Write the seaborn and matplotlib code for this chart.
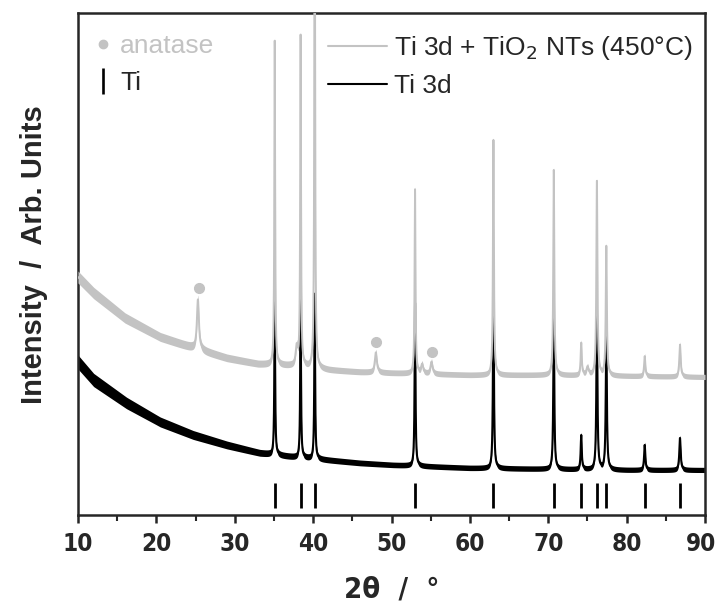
import numpy as np
import pandas as pd
import matplotlib
matplotlib.use("Agg")
import matplotlib.pyplot as plt
import matplotlib.transforms as mtransforms
from matplotlib.lines import Line2D
from matplotlib import font_manager
import seaborn as sns

# ---------------- data ----------------
# background knots (2theta, intensity in arbitrary units)
bg_gray_x = [10, 12, 16, 20.5, 24.7, 29, 33, 37.5, 42, 46, 50, 60, 70, 80, 90]
bg_gray_y = [238, 222, 197, 178, 167, 157, 151, 149, 145, 143, 142, 140, 140, 139, 138]
bg_black_x = [10, 12, 16.2, 20.5, 24.7, 29, 33.2, 37.5, 41.8, 46, 50.2, 60, 70, 80, 90]
bg_black_y = [153, 135, 112, 93, 80, 70, 62, 58, 55, 52, 50, 47, 46, 45, 45]
# noise half-width of the band (same units)
noise_x = [10, 20, 35, 50, 90]
noise_gray = [6.0, 4.5, 3.4, 2.9, 2.6]
noise_black = [7, 5.0, 3.2, 2.8, 2.6]

# Ti peaks
ti_pos = [35.1, 38.4, 40.2, 53.0, 63.0, 70.7, 74.2, 76.2, 77.4, 82.3, 86.8]
ti_h_gray = [324, 330, 560, 184, 235, 205, 32, 194, 129, 20, 32]
ti_h_black = [158, 157, 165, 163, 188, 152, 34, 156, 139, 25, 32]
ti_fwhm = [0.12, 0.12, 0.12, 0.13, 0.14, 0.15, 0.16, 0.16, 0.16, 0.18, 0.2]
# anatase peaks (gray pattern only)
an_pos = [25.3, 37.9, 48.0, 53.9, 55.1, 75.0]
an_h = [50, 18, 20, 9, 12, 8]
an_fwhm = [0.3, 0.3, 0.3, 0.3, 0.3, 0.3]
# anatase marker positions
an_mark_x = [25.45, 48.05, 55.1]
an_mark_y = [227, 173, 163]
# Ti reference sticks
ti_ref_bottom = 7
ti_ref_top = 32
x_ticks = [10, 20, 30, 40, 50, 60, 70, 80, 90]

theta = np.arange(10, 90.0001, 0.01)


def pattern(bx, by, pos, h, w):
    y = np.interp(theta, bx, by)
    for c, hh, ww in zip(pos, h, w):
        y = y + hh / (1 + ((theta - c) / (ww / 2)) ** 2)
    return y


y_black = pattern(bg_black_x, bg_black_y, ti_pos, ti_h_black, ti_fwhm)
y_gray = pattern(bg_gray_x, bg_gray_y, ti_pos + an_pos, ti_h_gray + an_h,
                 ti_fwhm + an_fwhm)
n_black = np.interp(theta, noise_x, noise_black)
n_gray = np.interp(theta, noise_x, noise_gray)

df = pd.DataFrame({"theta": theta, "black": y_black, "gray": y_gray})

# ---------------- figure ----------------
sns.set_theme(style="ticks")
plt.rcParams["font.family"] = ["Liberation Sans", "DejaVu Sans"]
names = {f.name for f in font_manager.fontManager.ttflist}
if "Liberation Sans Narrow" in names:
    NARROW = dict(family=["Liberation Sans Narrow", "Liberation Sans"])
else:
    NARROW = dict(family=["DejaVu Sans"], fontstretch="condensed")

GRAY = "#c3c3c3"
fig = plt.figure(figsize=(7.18, 6.05), dpi=100)
ax = fig.add_axes([0.1086, 0.1488, 0.8734, 0.8297])

ax.fill_between(theta, y_black - n_black, y_black + n_black, color="black",
                lw=0, zorder=2)
sns.lineplot(data=df, x="theta", y="black", ax=ax, color="black", lw=1.5,
             estimator=None, sort=False, zorder=2)
ax.vlines(ti_pos, ti_ref_bottom, ti_ref_top, color="black", lw=2, zorder=3)
ax.fill_between(theta, y_gray - n_gray, y_gray + n_gray, color=GRAY,
                lw=0, zorder=4)
sns.lineplot(data=df, x="theta", y="gray", ax=ax, color=GRAY, lw=1.4,
             estimator=None, sort=False, zorder=4)
ax.plot(an_mark_x, an_mark_y, "o", color=GRAY, ms=7, zorder=5)

ax.set_xlim(10, 90)
ax.set_ylim(0, 502)
ax.set_xticks(x_ticks)
ax.set_xticks(np.arange(15, 90, 10), minor=True)
ax.set_yticks([])
for s in ax.spines.values():
    s.set_linewidth(1.8)
    s.set_visible(True)
ax.tick_params(axis="x", which="major", length=6, width=1.8, direction="out",
               pad=6)
ax.tick_params(axis="x", which="minor", length=4, width=1.5, direction="out")
for lab in ax.get_xticklabels():
    lab.set(**NARROW)
    lab.set_fontweight("bold")
    lab.set_fontsize(17.5)
# nudge the last label so it stays inside the canvas
last = ax.xaxis.get_major_ticks()[-1].label1
last.set_transform(last.get_transform() +
                   mtransforms.ScaledTranslation(-4 / 100, 0, fig.dpi_scale_trans))

ax.set_xlabel("2θ  /  °", fontsize=21, fontweight="bold", labelpad=14, **NARROW)
ax.set_ylabel("Intensity  /  Arb. Units", fontsize=21, fontweight="bold")
ax.yaxis.set_label_coords(-0.048, 0.518)

h1 = [Line2D([], [], color=GRAY, lw=1.5), Line2D([], [], color="black", lw=1.5)]
leg1 = ax.legend(h1, ["Ti 3d + TiO$_2$ NTs (450°C)", "Ti 3d"], loc="upper right",
                 bbox_to_anchor=(0.98, 0.958), frameon=False, fontsize=19,
                 handlelength=2.25, handletextpad=0.25, labelspacing=0.45,
                 borderaxespad=0, borderpad=0)
ax.add_artist(leg1)

h2 = [Line2D([], [], color=GRAY, marker="o", ls="", ms=6),
      Line2D([], [], color="black", marker="|", ls="", ms=19, mew=1.9)]
leg2 = ax.legend(h2, ["anatase", "Ti"], loc="upper left",
                 bbox_to_anchor=(0.023, 0.958), frameon=False, fontsize=19,
                 handlelength=0.8, handletextpad=0.25, labelspacing=0.5,
                 borderaxespad=0, borderpad=0)
leg2.get_texts()[0].set_color(GRAY)

fig.savefig("out.png", dpi=100)
